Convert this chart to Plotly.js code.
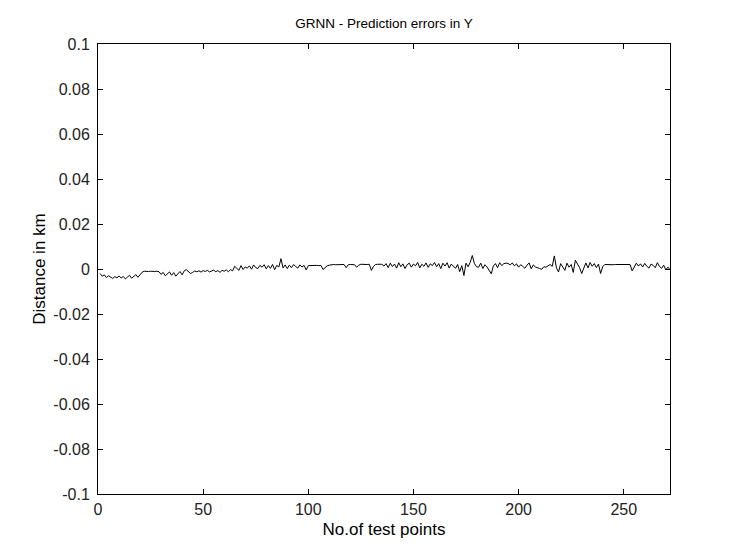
<!DOCTYPE html>
<html>
<head>
<meta charset="utf-8">
<script src="https://cdn.plot.ly/plotly-3.0.1.min.js"></script>
<style>html,body{margin:0;padding:0;background:#fff;}#chart{width:730px;height:546px;}</style>
</head>
<body>
<div id="chart"></div>
<script>
// Prediction errors in Y (km), test points 1..272
const errorsY = [
 -0.0020,-0.0032,-0.0026,-0.0038,-0.0030,-0.0036,-0.0042,-0.0034,-0.0039,-0.0031,
 -0.0040,-0.0033,-0.0044,-0.0036,-0.0028,-0.0041,-0.0032,-0.0025,-0.0037,-0.0026,
 -0.0014,-0.0010,-0.0012,-0.0011,-0.0010,-0.0012,-0.0011,-0.0010,-0.0012,-0.0024,
 -0.0015,-0.0030,-0.0021,-0.0013,-0.0028,-0.0016,-0.0032,-0.0020,-0.0011,-0.0026,
 -0.0008,-0.0003,-0.0012,-0.0020,-0.0015,-0.0009,-0.0012,-0.0008,-0.0014,-0.0007,
 -0.0011,-0.0006,-0.0013,-0.0009,-0.0005,-0.0012,-0.0007,-0.0015,-0.0006,-0.0010,
 -0.0004,-0.0012,-0.0003,-0.0008, 0.0012, 0.0003,-0.0006, 0.0015,-0.0002, 0.0009,
  0.0004, 0.0014,-0.0001, 0.0018, 0.0006, 0.0002, 0.0016, 0.0008, 0.0019, 0.0001,
  0.0015, 0.0003, 0.0020,-0.0003, 0.0016, 0.0009, 0.0046, 0.0005, 0.0018, 0.0002,
  0.0017, 0.0006, 0.0020, 0.0011, 0.0004, 0.0018, 0.0009, 0.0016,-0.0004, 0.0015,
  0.0016, 0.0015, 0.0016, 0.0016, 0.0015, 0.0016,-0.0002, 0.0008, 0.0014, 0.0017,
  0.0019, 0.0020, 0.0019, 0.0020, 0.0020, 0.0019, 0.0020, 0.0006, 0.0019, 0.0020,
  0.0020, 0.0019, 0.0008, 0.0017, 0.0021, 0.0020, 0.0021, 0.0020, 0.0021,-0.0006,
  0.0012, 0.0020, 0.0021, 0.0020, 0.0021, 0.0013, 0.0024, 0.0006, 0.0026, 0.0011,
  0.0022, 0.0004, 0.0028, 0.0010, 0.0023, 0.0002, 0.0019, 0.0026, 0.0008, 0.0022,
  0.0014, 0.0029, 0.0005, 0.0021, 0.0012, 0.0027, 0.0007, 0.0023, 0.0015, 0.0029,
  0.0010, 0.0024, 0.0002, 0.0026, 0.0013, 0.0028, 0.0004, 0.0022, 0.0011, 0.0003,
  0.0020,-0.0012, 0.0015,-0.0029, 0.0026, 0.0010, 0.0030, 0.0060, 0.0024, 0.0010,
  0.0008, 0.0026, 0.0002, 0.0019, 0.0009,-0.0005,-0.0021, 0.0013, 0.0024, 0.0006,
  0.0028, 0.0015, 0.0024, 0.0026, 0.0025, 0.0018, 0.0027, 0.0014, 0.0023, 0.0008,
  0.0019, 0.0012, 0.0003, 0.0017, 0.0027, 0.0001, 0.0018, 0.0009, 0.0004, 0.0002,
 -0.0001, 0.0010, 0.0008, 0.0013, 0.0020, 0.0012, 0.0058, 0.0005,-0.0013, 0.0024,
  0.0010,-0.0006, 0.0026, 0.0008, 0.0020,-0.0015, 0.0039, 0.0022, 0.0006,-0.0020,
  0.0008, 0.0027, 0.0005, 0.0029, 0.0012, 0.0024, 0.0006, 0.0022,-0.0020, 0.0010,
  0.0020, 0.0019, 0.0019, 0.0020, 0.0019, 0.0020, 0.0020, 0.0019, 0.0020, 0.0019,
  0.0020, 0.0019, 0.0020,-0.0008, 0.0011, 0.0026, 0.0013, 0.0023, 0.0009, 0.0025,
  0.0012, 0.0004, 0.0022, 0.0016, 0.0006, 0.0028, 0.0011, 0.0003, 0.0017,-0.0004,
  0.0008,-0.0002
];
const testPoints = errorsY.map((_, i) => i + 1);

const xTickVals = [0, 50, 100, 150, 200, 250];
const xTickText = ["0", "50", "100", "150", "200", "250"];
const yTickVals = [0.1, 0.08, 0.06, 0.04, 0.02, 0, -0.02, -0.04, -0.06, -0.08, -0.1];
const yTickText = ["0.1", "0.08", "0.06", "0.04", "0.02", "0", "-0.02", "-0.04", "-0.06", "-0.08", "-0.1"];

const fam = "Liberation Sans, Arial, sans-serif";
const titleFont = {family: fam, size: 13.5, color: "#000"};
const tickFont = {family: fam, size: 16, color: "#222"};
const labelFont = {family: fam, size: 17, color: "#000"};

const trace = {
  x: testPoints, y: errorsY, type: "scatter", mode: "lines",
  line: {color: "#000", width: 1}, hoverinfo: "skip"
};

const axisCommon = {
  showgrid: false, zeroline: false, showline: true, linecolor: "#000", linewidth: 1,
  mirror: "ticks", ticks: "inside", ticklen: 5, tickcolor: "#000", tickwidth: 1,
  tickfont: tickFont
};

const layout = {
  width: 730, height: 546,
  paper_bgcolor: "#fff", plot_bgcolor: "#fff",
  margin: {l: 98, r: 60, t: 44, b: 52},
  showlegend: false,
  font: labelFont,
  title: {text: "GRNN - Prediction errors in Y", font: titleFont, x: 0.526, xanchor: "center", y: 0.958, yanchor: "middle"},
  xaxis: Object.assign({}, axisCommon, {
    range: [0, 272], tickvals: xTickVals, ticktext: xTickText, ticklabelstandoff: 1,
    title: {text: "No.of test points", font: labelFont, standoff: 5}
  }),
  yaxis: Object.assign({}, axisCommon, {
    range: [-0.1, 0.1], tickvals: yTickVals, ticktext: yTickText, ticklabelstandoff: 4,
    title: {text: "Distance in km", font: labelFont, standoff: 3}
  })
};

Plotly.newPlot("chart", [trace], layout, {staticPlot: true, displayModeBar: false});
</script>
</body>
</html>
